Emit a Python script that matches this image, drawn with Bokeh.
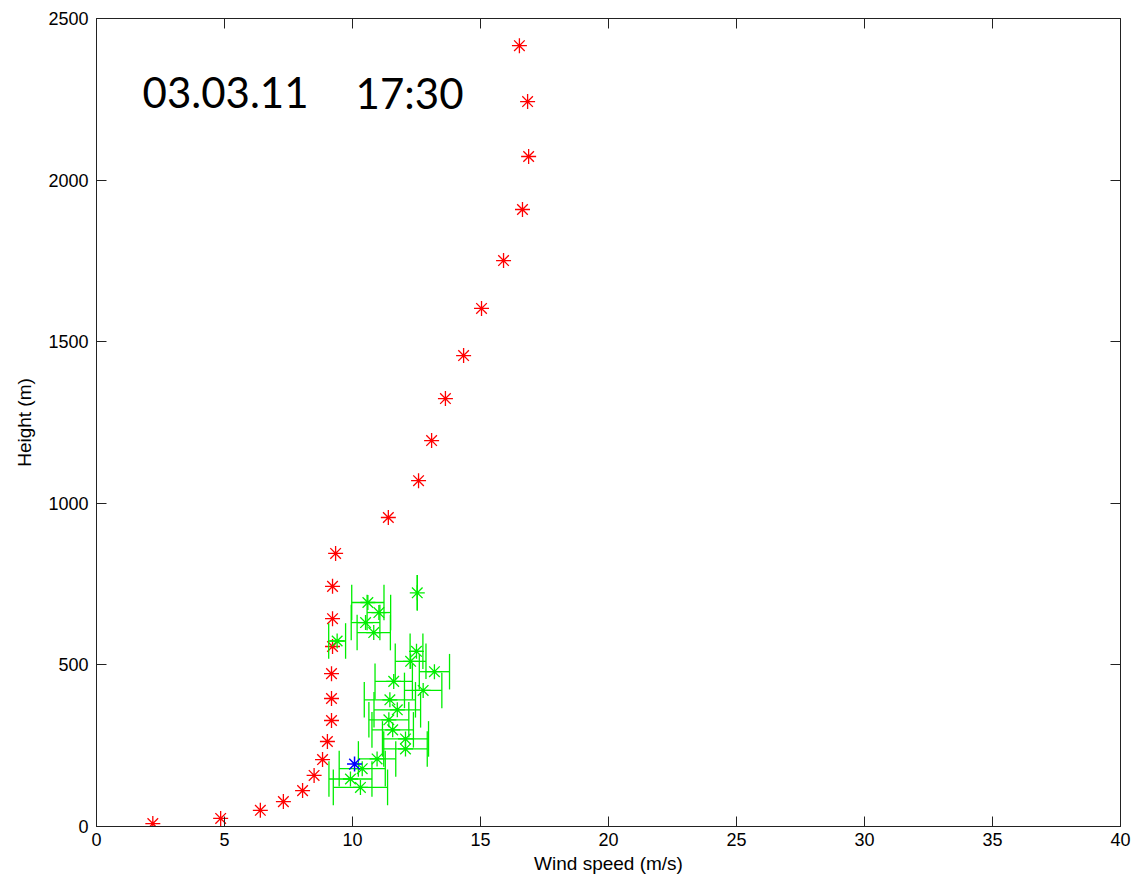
from bokeh.plotting import figure
from bokeh.models import Range1d, LinearAxis, Label, ColumnDataSource, FixedTicker
from bokeh.embed import file_html
from bokeh.resources import INLINE

# ---- data ----
radiosonde_speed = [2.2, 4.85, 6.4, 7.3, 8.05, 8.5, 8.83, 9.02, 9.18, 9.18, 9.18, 9.22, 9.22,
                    9.22, 9.34, 11.4, 12.58, 13.09, 13.63, 14.34, 15.04, 15.9, 16.64, 16.88,
                    16.84, 16.52]
radiosonde_height = [9, 25, 50, 77, 111, 158, 207, 263, 328, 396, 473, 557, 643, 743, 845,
                     956, 1070, 1194, 1324, 1457, 1603, 1751, 1909, 2073, 2243, 2416]

lidar_speed = [12.53, 10.60, 11.03, 10.51, 10.83, 9.40, 12.50, 12.27, 13.20, 11.61, 12.76,
               11.46, 11.75, 11.42, 11.57, 12.07, 12.07, 10.96, 10.38, 9.92, 10.31]
lidar_height = [723, 693, 662, 631, 600, 574, 542, 511, 479, 449, 421, 392, 361, 330, 299,
                271, 240, 209, 179, 147, 121]
lidar_err = [0.0, 0.63, 0.46, 0.56, 0.65, 0.33, 0.25, 0.6, 0.59, 0.73, 0.73, 1.0, 0.91,
             0.78, 0.81, 0.9, 0.85, 0.73, 0.9, 0.84, 1.06]

mast_speed = [10.08]
mast_height = [193]

x_ticks = [0, 5, 10, 15, 20, 25, 30, 35, 40]
y_ticks = [0, 500, 1000, 1500, 2000, 2500]
date_text = "03.03.11"
time_text = "17:30"

CAP = 55  # half-length of error-bar caps (m)

p = figure(width=1134, height=882, output_backend="svg", toolbar_location=None,
           x_range=Range1d(0, 40), y_range=Range1d(0, 2500),
           min_border_left=96, min_border_right=14, min_border_top=18, min_border_bottom=56)
p.xgrid.visible = False
p.ygrid.visible = False
p.outline_line_color = "#222222"
p.outline_line_width = 1
p.background_fill_color = "white"
p.border_fill_color = "white"

FONT = "Liberation Sans"
for ax in (p.xaxis[0], p.yaxis[0]):
    ax.major_tick_in = 10
    ax.major_tick_out = 0
    ax.minor_tick_line_color = None
    ax.axis_line_color = "#222222"
    ax.major_tick_line_color = "#222222"
    ax.major_label_text_font = FONT
    ax.major_label_text_font_size = "18px"
    ax.major_label_text_color = "black"
    ax.axis_label_text_font = FONT
    ax.axis_label_text_font_size = "19px"
    ax.axis_label_text_font_style = "normal"
    ax.axis_label_text_color = "black"
p.xaxis[0].ticker = FixedTicker(ticks=x_ticks)
p.yaxis[0].ticker = FixedTicker(ticks=y_ticks)
p.xaxis[0].axis_label = "Wind speed (m/s)"
p.yaxis[0].axis_label = "Height (m)"
p.xaxis[0].major_label_standoff = 6
p.yaxis[0].major_label_standoff = 8
p.xaxis[0].axis_label_standoff = 4
p.yaxis[0].axis_label_standoff = 10

top = LinearAxis(ticker=FixedTicker(ticks=x_ticks))
right = LinearAxis(ticker=FixedTicker(ticks=y_ticks))
for ax in (top, right):
    ax.major_tick_in = 10
    ax.major_tick_out = 0
    ax.minor_tick_line_color = None
    ax.axis_line_color = None
    ax.major_tick_line_color = "#222222"
    ax.major_label_text_color = None
    ax.major_label_text_font_size = "1px"
    ax.major_label_standoff = 0
p.add_layout(top, "above")
p.add_layout(right, "right")

# radiosonde (red)
p.scatter(radiosonde_speed, radiosonde_height, marker="asterisk", size=15,
          line_color="#ff0000", line_width=1.3)

# lidar with horizontal error bars (green)
src = ColumnDataSource(dict(
    x=lidar_speed, y=lidar_height,
    xl=[s - e for s, e in zip(lidar_speed, lidar_err)],
    xr=[s + e for s, e in zip(lidar_speed, lidar_err)],
    y0=[h - CAP for h in lidar_height],
    y1=[h + CAP for h in lidar_height],
))
G = "#00ee00"
p.segment(x0="xl", y0="y", x1="xr", y1="y", source=src, line_color=G, line_width=1.3)
p.segment(x0="xl", y0="y0", x1="xl", y1="y1", source=src, line_color=G, line_width=1.3)
p.segment(x0="xr", y0="y0", x1="xr", y1="y1", source=src, line_color=G, line_width=1.3)
p.scatter("x", "y", source=src, marker="asterisk", size=15, line_color=G, line_width=1.3)

# mast (blue)
p.scatter(mast_speed, mast_height, marker="asterisk", size=15, line_color="#0000ff",
          line_width=1.5)

for txt, xx in ((date_text, 1.8), (time_text, 10.12)):
    p.add_layout(Label(x=xx, y=2271, text=txt, text_font="Lato", text_font_size="42px",
                       text_color="black", text_baseline="alphabetic"))

open("out.html", "w").write(file_html(p, INLINE))
